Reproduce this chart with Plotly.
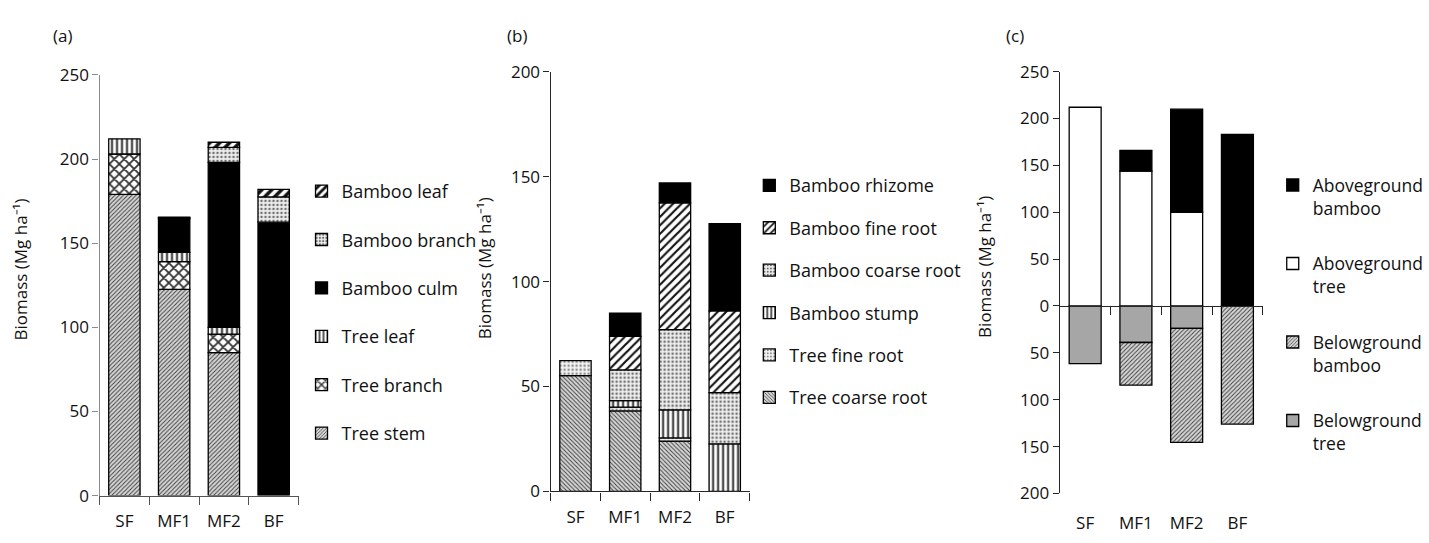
import plotly.graph_objects as go

W, H = 1429, 543

sites = ["SF", "MF1", "MF2", "BF"]

# (a) aboveground biomass components (Mg ha-1)
a_tree_stem = [179, 122.5, 85, 0]
a_tree_branch = [24, 16.5, 11, 0]
a_tree_leaf = [9, 5.5, 4, 0]
a_bamboo_culm = [0, 20, 98, 162.5]
a_bamboo_branch = [0, 0.5, 9, 15]
a_bamboo_leaf = [0, 0.5, 3, 4.5]

# (b) belowground biomass components (Mg ha-1)
b_tree_coarse_root = [55.2, 38.4, 24, 0]
b_tree_fine_root = [7.1, 1.8, 1.5, 0]
b_bamboo_stump = [0, 3.1, 13.4, 22.7]
b_bamboo_coarse_root = [0, 14.6, 38.2, 24.4]
b_bamboo_fine_root = [0, 16, 60.4, 38.9]
b_bamboo_rhizome = [0, 11, 9.5, 41.6]

# (c) above- / belowground totals (Mg ha-1); belowground drawn downward
c_above_tree = [212, 144, 100, 0]
c_above_bamboo = [0, 22, 110, 183]
c_below_tree = [61.5, 39, 24, 0]
c_below_bamboo = [0, 45.5, 121.5, 126]

c_tick_vals = [-200, -150, -100, -50, 0, 50, 100, 150, 200, 250]


def px_x(x):
    return x / W


def px_y(y):
    return 1 - y / H


FONT = "Open Sans"
TXT = "#111111"
BLACK = "#000000"


def clean(vals, sign=1):
    return [sign * v if v else None for v in vals]


def pat(shape, fg, bg, size, solidity):
    return dict(shape=shape, fgcolor=fg, bgcolor=bg, size=size, solidity=solidity, fillmode="replace")


styles = {
    "stem": dict(color="#cfcfcf", pattern=pat("/", "#404040", "#d6d6d6", 3, 0.33)),
    "branch": dict(color="#999999", pattern=pat("x", "#333333", "#ffffff", 7, 0.45)),
    "leafv": dict(color="#ffffff", pattern=pat("|", "#111111", "#ffffff", 5, 0.35)),
    "solid_black": dict(color="#000000"),
    "dots": dict(color="#e6e6e6", pattern=pat(".", "#6e6e6e", "#eeeeee", 4, 0.3)),
    "bold_hatch": dict(color="#ffffff", pattern=pat("/", "#111111", "#ffffff", 7, 0.5)),
    "coarse": dict(color="#cfcfcf", pattern=pat("\\", "#404040", "#d6d6d6", 3, 0.33)),
    "dots_light": dict(color="#eeeeee", pattern=pat(".", "#8a8a8a", "#f2f2f2", 4, 0.28)),
    "wide_hatch": dict(color="#ffffff", pattern=pat("/", "#111111", "#ffffff", 6, 0.36)),
    "gray": dict(color="#a6a6a6"),
    "white": dict(color="#ffffff"),
}

fig = go.Figure()
_rank = [1000]


def add_bar(name, vals, style, xa, ya, legend, sign=1):
    m = dict(styles[style])
    m["line"] = dict(color=BLACK, width=1.3)
    _rank[0] -= 1
    fig.add_trace(go.Bar(
        x=sites, y=clean(vals, sign), name=name, marker=m,
        xaxis=xa, yaxis=ya, legend=legend, legendgroup=legend + name,
        legendrank=_rank[0], width=0.63,
    ))


# Panel (a)
add_bar("Tree stem", a_tree_stem, "stem", "x", "y", "legend")
add_bar("Tree branch", a_tree_branch, "branch", "x", "y", "legend")
add_bar("Tree leaf", a_tree_leaf, "leafv", "x", "y", "legend")
add_bar("Bamboo culm", a_bamboo_culm, "solid_black", "x", "y", "legend")
add_bar("Bamboo branch", a_bamboo_branch, "dots", "x", "y", "legend")
add_bar("Bamboo leaf", a_bamboo_leaf, "bold_hatch", "x", "y", "legend")

# Panel (b)
add_bar("Tree coarse root", b_tree_coarse_root, "coarse", "x2", "y2", "legend2")
add_bar("Tree fine root", b_tree_fine_root, "dots_light", "x2", "y2", "legend2")
add_bar("Bamboo stump", b_bamboo_stump, "leafv", "x2", "y2", "legend2")
add_bar("Bamboo coarse root", b_bamboo_coarse_root, "dots", "x2", "y2", "legend2")
add_bar("Bamboo fine root", b_bamboo_fine_root, "wide_hatch", "x2", "y2", "legend2")
add_bar("Bamboo rhizome", b_bamboo_rhizome, "solid_black", "x2", "y2", "legend2")

# Panel (c)
add_bar("Belowground<br>tree", c_below_tree, "gray", "x3", "y3", "legend3", sign=-1)
add_bar("Belowground<br>bamboo", c_below_bamboo, "stem", "x3", "y3", "legend3", sign=-1)
add_bar("Aboveground<br>tree", c_above_tree, "white", "x3", "y3", "legend3")
add_bar("Aboveground<br>bamboo", c_above_bamboo, "solid_black", "x3", "y3", "legend3")

# helper trace so the zero-crossing category axis of (c) is drawn
fig.add_trace(go.Scatter(x=sites, y=[None] * 4, xaxis="x4", yaxis="y3",
                         showlegend=False, hoverinfo="skip", mode="lines"))

tickfont = dict(family=FONT, size=17, color=TXT)

# domains from pixel geometry
xa_dom = [px_x(100), px_x(300)]
ya_dom = [px_y(505), px_y(65.7)]
xb_dom = [px_x(553.3), px_x(753.3)]
yb_dom = [px_y(500.7), px_y(62.3)]
xc_dom = [px_x(1065), px_x(1269)]
yc_dom = [px_y(502.7), px_y(62.3)]
c_zero = yc_dom[0] + (0 - (-200)) / 450 * (yc_dom[1] - yc_dom[0])


def xaxis_cfg(dom, anchor, lc):
    return dict(domain=dom, anchor=anchor, type="category", categoryarray=sites,
                range=[-0.5, 3.5], showline=True, linecolor=lc, linewidth=1.2,
                ticks="outside", tickson="boundaries", ticklen=8, tickcolor=lc,
                tickfont=tickfont, showgrid=False, zeroline=False,
                ticklabelstandoff=10)


def yaxis_cfg(dom, anchor, rng, lc, **kw):
    d = dict(domain=dom, anchor=anchor, range=rng, showline=True, linecolor=lc,
             linewidth=1.2, ticks="outside", ticklen=6, tickcolor=lc,
             tickfont=tickfont, showgrid=False, zeroline=False, dtick=50)
    d.update(kw)
    return d


legend_common = dict(xanchor="left", yanchor="top", traceorder="grouped",
                     bgcolor="rgba(0,0,0,0)", itemwidth=30)

fig.update_layout(
    width=W, height=H,
    margin=dict(l=0, r=0, t=0, b=0),
    paper_bgcolor="white", plot_bgcolor="white",
    barmode="relative",
    font=dict(family=FONT, size=17, color=TXT),
    xaxis=xaxis_cfg(xa_dom, "y", "#555555"),
    yaxis=yaxis_cfg(ya_dom, "x", [0, 250], "#8c8c8c"),
    xaxis2=xaxis_cfg(xb_dom, "y2", "#262626"),
    yaxis2=yaxis_cfg(yb_dom, "x2", [0, 200], "#262626"),
    xaxis3=dict(domain=xc_dom, anchor="y3", type="category", categoryarray=sites,
                range=[-0.5, 3.5], showline=False, ticks="", tickfont=tickfont,
                showgrid=False, zeroline=False, ticklabelstandoff=18),
    xaxis4=dict(overlaying="x3", anchor="free", position=c_zero, type="category",
                categoryarray=sites, range=[-0.5, 3.5], showline=True,
                linecolor="#262626", linewidth=1.2, ticks="outside",
                tickson="boundaries", ticklen=8, tickcolor="#262626",
                showticklabels=False, showgrid=False, zeroline=False),
    yaxis3=yaxis_cfg(yc_dom, "x3", [-200, 250], "#262626",
                     tickvals=c_tick_vals, ticktext=[str(abs(v)) for v in c_tick_vals]),
    showlegend=True,
    legend=dict(x=px_x(303), y=px_y(168), tracegroupgap=22,
                font=dict(family=FONT, size=18, color=TXT), **legend_common),
    legend2=dict(x=px_x(753), y=px_y(162), tracegroupgap=16,
                 font=dict(family=FONT, size=18, color=TXT), **legend_common),
    legend3=dict(x=px_x(1279), y=px_y(162), tracegroupgap=30, valign="top",
                 font=dict(family=FONT, size=17.5, color=TXT), **legend_common),
)

ann_font = dict(family=FONT, size=17, color=TXT)
for label, x in [("(a)", 63), ("(b)", 520), ("(c)", 1020)]:
    fig.add_annotation(text=label, x=px_x(x), y=px_y(25), xref="paper", yref="paper",
                       showarrow=False, font=ann_font, xanchor="center", yanchor="middle")

for x, y in [(21, 269), (487, 268), (990, 266)]:
    fig.add_annotation(text="Biomass (Mg ha\u207b\u00b9)", x=px_x(x), y=px_y(y),
                       xref="paper", yref="paper", showarrow=False, textangle=-90,
                       font=ann_font, xanchor="center", yanchor="middle")

fig.write_html("out.html", config={"displayModeBar": False},
               post_script="document.body.style.margin='0';document.body.style.padding='0';")
